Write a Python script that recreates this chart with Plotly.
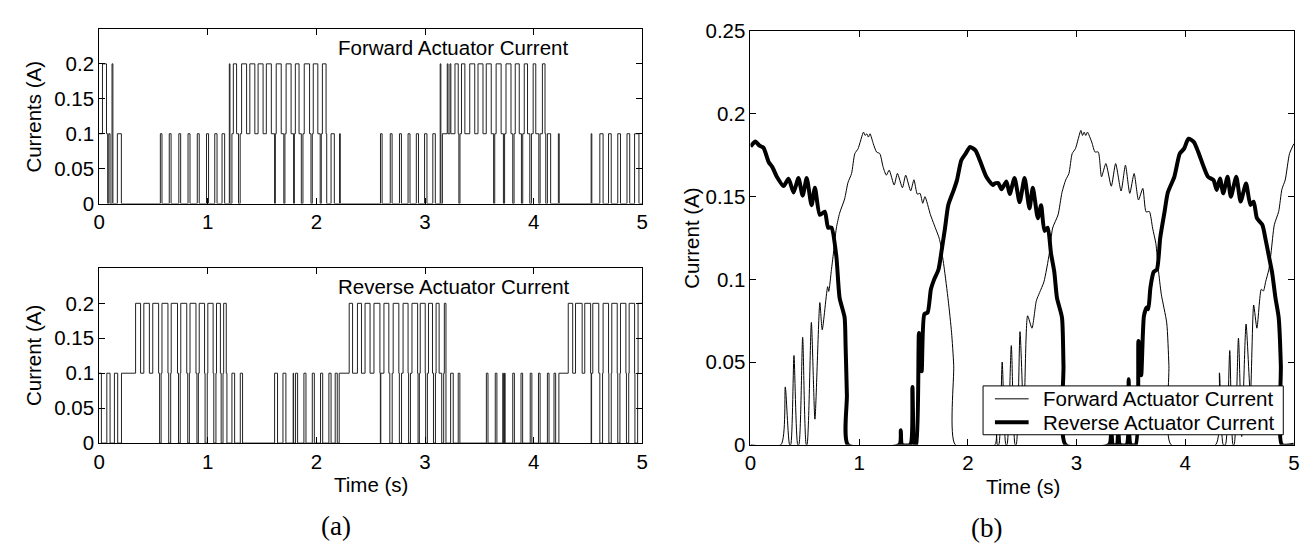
import plotly.graph_objects as go

# ---------------- data ----------------
# Left panels: switching instants (s) and the current level (A) after each switch
fwd_switch_t = [
    0.000, 0.030, 0.067, 0.078, 0.088, 0.100, 0.118, 0.126, 0.167, 0.204,
    0.563, 0.578, 0.645, 0.662, 0.733, 0.750, 0.818, 0.836, 0.903, 0.921,
    0.988, 1.007, 1.064, 1.085, 1.131, 1.155,
    1.198, 1.204, 1.222, 1.235, 1.265, 1.283, 1.298, 1.311, 1.357, 1.387,
    1.433, 1.463, 1.509, 1.539, 1.585, 1.615, 1.622, 1.630, 1.676, 1.700,
    1.710, 1.721, 1.767, 1.790, 1.797, 1.806, 1.840, 1.861, 1.876, 1.888,
    1.937, 1.950, 1.962, 1.971, 2.013, 2.035, 2.045, 2.055, 2.089, 2.095,
    2.135, 2.165, 2.213, 2.220,
    2.590, 2.605, 2.680, 2.697, 2.765, 2.783, 2.844, 2.862, 2.920, 2.940,
    2.996, 3.018, 3.072, 3.095,
    3.140, 3.146, 3.160, 3.205, 3.212, 3.230, 3.238, 3.276, 3.306, 3.312,
    3.322, 3.336, 3.367, 3.412, 3.458, 3.488, 3.534, 3.564, 3.610, 3.632,
    3.642, 3.655, 3.701, 3.722, 3.733, 3.746, 3.792, 3.808, 3.820, 3.831,
    3.868, 3.888, 3.900, 3.914, 3.944, 3.965, 3.980, 3.996, 4.020, 4.048,
    4.060, 4.081, 4.105, 4.112, 4.127, 4.157, 4.228, 4.236,
    4.530, 4.536, 4.610, 4.640, 4.690, 4.715, 4.775, 4.800, 4.860, 4.885,
    4.930, 4.970,
]
fwd_switch_level = [
    0.1, 0.2, 0.1, 0.0, 0.1, 0.0, 0.2, 0.0, 0.1, 0.0,
    0.1, 0.0, 0.1, 0.0, 0.1, 0.0, 0.1, 0.0, 0.1, 0.0,
    0.1, 0.0, 0.1, 0.0, 0.1, 0.0,
    0.2, 0.0, 0.1, 0.2, 0.1, 0.0, 0.1, 0.2, 0.1, 0.2,
    0.1, 0.2, 0.1, 0.2, 0.1, 0.0, 0.1, 0.2, 0.1, 0.0,
    0.1, 0.2, 0.1, 0.0, 0.1, 0.2, 0.1, 0.0, 0.1, 0.2,
    0.1, 0.0, 0.1, 0.2, 0.1, 0.0, 0.1, 0.2, 0.1, 0.0,
    0.1, 0.0, 0.1, 0.0,
    0.1, 0.0, 0.1, 0.0, 0.1, 0.0, 0.1, 0.0, 0.1, 0.0,
    0.1, 0.0, 0.1, 0.0,
    0.2, 0.0, 0.1, 0.2, 0.1, 0.2, 0.1, 0.2, 0.1, 0.0,
    0.1, 0.2, 0.1, 0.2, 0.1, 0.2, 0.1, 0.2, 0.1, 0.0,
    0.1, 0.2, 0.1, 0.0, 0.1, 0.2, 0.1, 0.0, 0.1, 0.2,
    0.1, 0.0, 0.1, 0.2, 0.1, 0.0, 0.1, 0.2, 0.1, 0.0,
    0.1, 0.2, 0.1, 0.0, 0.1, 0.0, 0.1, 0.0,
    0.1, 0.0, 0.1, 0.0, 0.1, 0.0, 0.1, 0.0, 0.1, 0.0,
    0.1, 0.0,
]

rev_switch_t = [
    0.000, 0.020, 0.070, 0.100, 0.140, 0.170, 0.205,
    0.335, 0.381, 0.411, 0.462, 0.493, 0.547, 0.556, 0.570, 0.578, 0.633,
    0.640, 0.658, 0.663, 0.721, 0.730, 0.746, 0.751, 0.806, 0.815, 0.830,
    0.836, 0.891, 0.900, 0.913, 0.921, 0.970, 0.975, 0.995, 1.000, 1.049,
    1.055, 1.075, 1.080, 1.116, 1.123, 1.140, 1.146, 1.170, 1.176, 1.222,
    1.247, 1.299, 1.320,
    1.615, 1.642, 1.692, 1.719, 1.786, 1.790, 1.808, 1.827, 1.885, 1.904,
    1.962, 1.981, 2.038, 2.058, 2.115, 2.135, 2.173, 2.192, 2.210,
    2.302, 2.333, 2.378, 2.415, 2.448, 2.494, 2.530, 2.585, 2.589, 2.593,
    2.622, 2.667, 2.676, 2.698, 2.707, 2.759, 2.764, 2.784, 2.798, 2.844,
    2.849, 2.866, 2.880, 2.932, 2.936, 2.948, 2.956, 3.002, 3.006, 3.022,
    3.032, 3.069, 3.078, 3.096, 3.102, 3.130, 3.154, 3.172, 3.178, 3.193,
    3.236, 3.260, 3.306, 3.321,
    3.565, 3.580, 3.647, 3.662, 3.716, 3.722, 3.732, 3.738, 3.808, 3.823,
    3.884, 3.899, 3.969, 3.984, 4.045, 4.060, 4.127, 4.142, 4.188, 4.203,
    4.233,
    4.319, 4.360, 4.386, 4.447, 4.471, 4.525, 4.530, 4.534, 4.545, 4.600,
    4.610, 4.635, 4.640, 4.690, 4.693, 4.715, 4.720, 4.770, 4.775, 4.795,
    4.800, 4.850, 4.855, 4.876, 4.880, 4.930, 4.933, 4.958, 4.962,
]
rev_switch_level = [
    0.1, 0.0, 0.1, 0.0, 0.1, 0.0, 0.1,
    0.2, 0.1, 0.2, 0.1, 0.2, 0.1, 0.0, 0.1, 0.2, 0.1,
    0.0, 0.1, 0.2, 0.1, 0.0, 0.1, 0.2, 0.1, 0.0, 0.1,
    0.2, 0.1, 0.0, 0.1, 0.2, 0.1, 0.0, 0.1, 0.2, 0.1,
    0.0, 0.1, 0.2, 0.1, 0.0, 0.1, 0.2, 0.1, 0.0, 0.1,
    0.0, 0.1, 0.0,
    0.1, 0.0, 0.1, 0.0, 0.1, 0.0, 0.1, 0.0, 0.1, 0.0,
    0.1, 0.0, 0.1, 0.0, 0.1, 0.0, 0.1, 0.0, 0.1,
    0.2, 0.1, 0.2, 0.1, 0.2, 0.1, 0.2, 0.1, 0.0, 0.1,
    0.2, 0.1, 0.0, 0.1, 0.2, 0.1, 0.0, 0.1, 0.2, 0.1,
    0.0, 0.1, 0.2, 0.1, 0.0, 0.1, 0.2, 0.1, 0.0, 0.1,
    0.2, 0.1, 0.0, 0.1, 0.2, 0.1, 0.0, 0.1, 0.2, 0.0,
    0.1, 0.0, 0.1, 0.0,
    0.1, 0.0, 0.1, 0.0, 0.1, 0.0, 0.1, 0.0, 0.1, 0.0,
    0.1, 0.0, 0.1, 0.0, 0.1, 0.0, 0.1, 0.0, 0.1, 0.0,
    0.1,
    0.2, 0.1, 0.2, 0.1, 0.2, 0.1, 0.0, 0.1, 0.2, 0.1,
    0.0, 0.1, 0.2, 0.1, 0.0, 0.1, 0.2, 0.1, 0.0, 0.1,
    0.2, 0.1, 0.0, 0.1, 0.2, 0.1, 0.0, 0.1, 0.2,
]

# Right panel: filtered actuator currents
fwd_t = [
    0.00, 0.28, 0.32, 0.36, 0.37, 0.40, 0.435, 0.445, 0.48, 0.513, 0.52,
    0.56, 0.593, 0.638, 0.66, 0.71, 0.72, 0.745, 0.76, 0.79, 0.82, 0.866,
    0.897, 0.93, 0.96, 0.99, 1.04, 1.055, 1.07, 1.085, 1.10, 1.13, 1.16,
    1.19, 1.22, 1.25, 1.276, 1.322, 1.352, 1.398, 1.428, 1.474, 1.504,
    1.535, 1.56, 1.585, 1.605, 1.656, 1.69, 1.74, 1.78, 1.82, 1.85, 1.87,
    1.885, 2.25, 2.262, 2.272, 2.285, 2.316, 2.35, 2.36, 2.40, 2.435,
    2.445, 2.48, 2.515, 2.55, 2.59, 2.63, 2.66, 2.70, 2.75, 2.78, 2.83,
    2.866, 2.90, 2.93, 2.96, 2.99, 3.04, 3.055, 3.07, 3.085, 3.10, 3.14,
    3.17, 3.20, 3.23, 3.27, 3.32, 3.36, 3.41, 3.45, 3.49, 3.53, 3.57,
    3.61, 3.64, 3.67, 3.70, 3.73, 3.753, 3.78, 3.83, 3.85, 3.87, 4.28,
    4.315, 4.35, 4.37, 4.41, 4.44, 4.45, 4.49, 4.52, 4.56, 4.60, 4.63,
    4.66, 4.70, 4.72, 4.74, 4.77, 4.79, 4.82, 4.86, 4.89, 4.92, 4.96, 5.00,
]
fwd_i = [
    0.0, 0.0, 0.035, 0.0, 0.0, 0.054, 0.0, 0.0, 0.065, 0.0, 0.0,
    0.074, 0.0155, 0.086, 0.0695, 0.0956, 0.0927, 0.106, 0.114, 0.131, 0.14, 0.1486,
    0.1585, 0.164, 0.176, 0.179, 0.189, 0.187, 0.188, 0.186, 0.188, 0.182, 0.177,
    0.176, 0.168, 0.163, 0.166, 0.157, 0.164, 0.1554, 0.163, 0.1535, 0.1602,
    0.1515, 0.152, 0.146, 0.150, 0.139, 0.133, 0.124, 0.108, 0.087, 0.068, 0.048,
    0.0, 0.0, 0.0117, 0.0, 0.0, 0.05, 0.0, 0.0, 0.06, 0.0,
    0.0, 0.0684, 0.015, 0.078, 0.0705, 0.087, 0.092, 0.0985, 0.1158, 0.131, 0.139,
    0.1525, 0.16, 0.164, 0.176, 0.179, 0.190, 0.187, 0.189, 0.187, 0.189, 0.183,
    0.177, 0.177, 0.162, 0.170, 0.1563, 0.170, 0.1534, 0.169, 0.152, 0.164, 0.148,
    0.155, 0.1408, 0.141, 0.131, 0.1217, 0.106, 0.091, 0.0737, 0.048, 0.0, 0.0,
    0.0435, 0.0, 0.0, 0.057, 0.0, 0.0, 0.0645, 0.005, 0.073, 0.03, 0.0845,
    0.0705, 0.094, 0.093, 0.0985, 0.106, 0.116, 0.133, 0.141, 0.1545, 0.16, 0.176, 0.182,
]

rev_t = [
    0.00, 0.045, 0.08, 0.12, 0.168, 0.20, 0.243, 0.304, 0.35, 0.396, 0.441,
    0.48, 0.517, 0.562, 0.593, 0.638, 0.684, 0.714, 0.745, 0.79, 0.82, 0.866,
    0.875, 0.887, 0.897, 1.37, 1.383, 1.395, 1.47, 1.49, 1.51, 1.525, 1.55,
    1.575, 1.60, 1.63, 1.66, 1.69, 1.73, 1.76, 1.79, 1.82, 1.87, 1.90, 1.94,
    1.98, 2.02, 2.07, 2.11, 2.17, 2.23, 2.249, 2.279, 2.31, 2.355, 2.385, 2.43,
    2.476, 2.522, 2.567, 2.598, 2.644, 2.674, 2.705, 2.735, 2.765, 2.796, 2.82,
    2.866, 2.88, 2.90, 3.30, 3.32, 3.335, 3.37, 3.385, 3.40, 3.46, 3.48, 3.50,
    3.545, 3.57, 3.595, 3.62, 3.645, 3.66, 3.68, 3.71, 3.74, 3.77, 3.81, 3.84,
    3.90, 3.95, 3.99, 4.03, 4.08, 4.12, 4.17, 4.21, 4.26, 4.29, 4.32, 4.35,
    4.39, 4.42, 4.47, 4.51, 4.56, 4.60, 4.63, 4.66, 4.71, 4.74, 4.77, 4.80,
    4.83, 4.86, 4.88, 4.89, 5.00,
]
rev_i = [
    0.1804, 0.1833, 0.181, 0.1795, 0.1708, 0.168, 0.162, 0.1564, 0.1608, 0.1525, 0.1612,
    0.1506, 0.1612, 0.1448, 0.1554, 0.139, 0.1409, 0.1313, 0.1313, 0.1139, 0.0888, 0.077,
    0.06, 0.03, 0.0, 0.0, 0.0088, 0.0, 0.0, 0.035, 0.0, 0.0, 0.0676,
    0.0445, 0.079, 0.080, 0.094, 0.10, 0.106, 0.118, 0.131, 0.145, 0.154, 0.16, 0.172,
    0.176, 0.18, 0.178, 0.172, 0.162, 0.157, 0.158, 0.1582, 0.1545, 0.1592, 0.1516, 0.1612,
    0.1467, 0.1612, 0.1429, 0.1554, 0.137, 0.1448, 0.1293, 0.1312, 0.1158, 0.1042, 0.0888,
    0.077, 0.048, 0.0, 0.0, 0.01, 0.0, 0.0, 0.015, 0.0, 0.0, 0.0396, 0.0,
    0.0, 0.0628, 0.042, 0.0777, 0.083, 0.082, 0.095, 0.1045, 0.106, 0.125, 0.1408, 0.1525,
    0.162, 0.176, 0.179, 0.185, 0.183, 0.177, 0.168, 0.162, 0.16, 0.154, 0.161, 0.152,
    0.162, 0.150, 0.162, 0.147, 0.158, 0.145, 0.147, 0.137, 0.133, 0.124, 0.114, 0.104,
    0.089, 0.077, 0.048, 0.0, 0.0,
]

series_names = ["Forward Actuator Current", "Reverse Actuator Current"]
time_ticks = [0, 1, 2, 3, 4, 5]
left_ticks = [0, 0.05, 0.1, 0.15, 0.2]
left_tick_text = ["0", "0.05", "0.1", "0.15", "0.2"]
right_ticks = [0, 0.05, 0.1, 0.15, 0.2, 0.25]
right_tick_text = ["0", "0.05", "0.1", "0.15", "0.2", "0.25"]

# ---------------- figure ----------------
W, H = 1311, 546
FONT = "Liberation Sans, Arial, Helvetica, sans-serif"
SERIF = "Liberation Serif, Times New Roman, serif"
FS = 20.5


def step_xy(ts, lv, t_end=5.0):
    return list(ts) + [t_end], list(lv) + [lv[-1]]


def px_x(p):
    return p / W


def px_y(p):
    return 1 - p / H


fig = go.Figure()

fx, fy = step_xy(fwd_switch_t, fwd_switch_level)
fig.add_trace(go.Scatter(x=fx, y=fy, mode="lines", name=series_names[0],
                         line=dict(color="#222", width=1, shape="hv"),
                         showlegend=False, xaxis="x", yaxis="y"))
rx, ry = step_xy(rev_switch_t, rev_switch_level)
fig.add_trace(go.Scatter(x=rx, y=ry, mode="lines", name=series_names[1],
                         line=dict(color="#222", width=1, shape="hv"),
                         showlegend=False, xaxis="x2", yaxis="y2"))

fig.add_trace(go.Scatter(x=fwd_t, y=fwd_i, mode="lines", name=series_names[0],
                         line=dict(color="black", width=1, shape="spline", smoothing=0.6),
                         showlegend=False, xaxis="x3", yaxis="y3"))
fig.add_trace(go.Scatter(x=rev_t, y=rev_i, mode="lines", name=series_names[1],
                         line=dict(color="black", width=4, shape="spline", smoothing=0.6),
                         showlegend=False, xaxis="x3", yaxis="y3"))

axis_common = dict(showline=True, linecolor="black", linewidth=1, mirror="ticks",
                   ticks="inside", ticklen=6, tickcolor="black", tickwidth=1,
                   showgrid=False, zeroline=False, ticklabeloverflow="allow",
                   tickfont=dict(family=FONT, size=FS, color="black"))

xl_dom = [px_x(86), px_x(634)]
xr_dom = [px_x(743.3), px_x(1291.7)]

fig.update_layout(
    width=W, height=H,
    margin=dict(l=0, r=0, t=0, b=0),
    paper_bgcolor="white", plot_bgcolor="white",
    font=dict(family=FONT, size=FS, color="black"),
    showlegend=False,
    xaxis=dict(domain=xl_dom, range=[0, 5], tickvals=time_ticks, anchor="y", **axis_common),
    yaxis=dict(domain=[px_y(191.7), px_y(9.3)], range=[0, 0.25], tickvals=left_ticks,
               ticktext=left_tick_text, anchor="x", **axis_common),
    xaxis2=dict(domain=xl_dom, range=[0, 5], tickvals=time_ticks, anchor="y2", **axis_common),
    yaxis2=dict(domain=[px_y(441.7), px_y(259.3)], range=[0, 0.25], tickvals=left_ticks,
                ticktext=left_tick_text, anchor="x2", **axis_common),
    xaxis3=dict(domain=xr_dom, range=[0, 5], tickvals=time_ticks, anchor="y3", **axis_common),
    yaxis3=dict(domain=[px_y(443.5), px_y(11.7)], range=[0, 0.25], tickvals=right_ticks,
                ticktext=right_tick_text, anchor="x3", **axis_common),
)

txt = dict(family=FONT, size=FS, color="black")

# axis titles
fig.add_annotation(x=px_x(19.5), y=px_y(100.5), xref="paper", yref="paper", text="Currents (A)",
                   textangle=-90, showarrow=False, xanchor="center", yanchor="middle", font=txt)
fig.add_annotation(x=px_x(19.5), y=px_y(350.5), xref="paper", yref="paper", text="Current (A)",
                   textangle=-90, showarrow=False, xanchor="center", yanchor="middle", font=txt)
fig.add_annotation(x=px_x(683), y=px_y(227.6), xref="paper", yref="paper", text="Current (A)",
                   textangle=-90, showarrow=False, xanchor="center", yanchor="middle", font=txt)
fig.add_annotation(x=px_x(360), y=px_y(485), xref="paper", yref="paper", text="Time (s)",
                   showarrow=False, xanchor="center", yanchor="middle", font=txt)
fig.add_annotation(x=px_x(1018), y=px_y(487), xref="paper", yref="paper", text="Time (s)",
                   showarrow=False, xanchor="center", yanchor="middle", font=txt)

# in-panel labels
fig.add_annotation(x=2.18, y=0.224, xref="x", yref="y", text=series_names[0],
                   showarrow=False, xanchor="left", yanchor="middle", font=txt)
fig.add_annotation(x=2.18, y=0.224, xref="x2", yref="y2", text=series_names[1],
                   showarrow=False, xanchor="left", yanchor="middle", font=txt)

# sub-figure captions
fig.add_annotation(x=px_x(325), y=px_y(528), xref="paper", yref="paper", text="(a)",
                   showarrow=False, xanchor="center", yanchor="middle",
                   font=dict(family=SERIF, size=27, color="black"))
fig.add_annotation(x=px_x(981), y=px_y(530), xref="paper", yref="paper", text="(b)",
                   showarrow=False, xanchor="center", yanchor="middle",
                   font=dict(family=SERIF, size=27, color="black"))

# legend box for panel (b)
fig.add_shape(type="rect", xref="paper", yref="paper",
              x0=px_x(978), x1=px_x(1281), y0=px_y(433), y1=px_y(382),
              line=dict(color="black", width=1), fillcolor="white", layer="above")
fig.add_shape(type="line", xref="paper", yref="paper",
              x0=px_x(990), x1=px_x(1024), y0=px_y(395.5), y1=px_y(395.5),
              line=dict(color="black", width=1), layer="above")
fig.add_shape(type="line", xref="paper", yref="paper",
              x0=px_x(990), x1=px_x(1024), y0=px_y(420), y1=px_y(420),
              line=dict(color="black", width=4), layer="above")
fig.add_annotation(x=px_x(1036), y=px_y(395.5), xref="paper", yref="paper", text=series_names[0],
                   showarrow=False, xanchor="left", yanchor="middle", font=txt)
fig.add_annotation(x=px_x(1036), y=px_y(420), xref="paper", yref="paper", text=series_names[1],
                   showarrow=False, xanchor="left", yanchor="middle", font=txt)

fig.write_html("out.html")
